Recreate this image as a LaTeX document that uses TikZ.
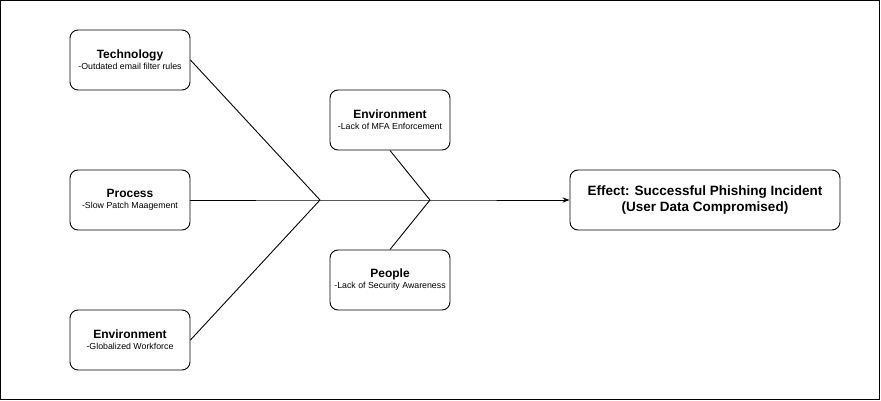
\documentclass[tikz,border=0pt]{standalone}
\usepackage{fontspec}
\setmainfont{Liberation Sans}
\usetikzlibrary{arrows.meta}
\tikzset {>=Stealth}
\tikzset{
  cause/.style={draw,rounded corners=8pt,minimum width=120pt,minimum height=60pt,align=center,inner sep=0pt},
  effect/.style={draw,rounded corners=8pt,minimum width=270pt,minimum height=60pt,align=center,inner sep=0pt,font=\fontsize{13.5}{16}\selectfont\bfseries}
}
\newcommand{\causetext}[2]{{\fontsize{12}{14}\selectfont\bfseries #1}\\[-1pt]{\fontsize{8.8}{10}\selectfont #2}}

\begin{document}
\begin{tikzpicture}[x=1pt,y=-1pt,line width=0.9pt]
\useasboundingbox (0,0) rectangle (881,401);
\draw (0.5,0.5) rectangle (879.5,399.5);

\node[cause] (tech) at (130,60) {\causetext{Technology}{-Outdated email filter rules}};
\node[cause] (proc) at (130,200) {\causetext{Process}{-Slow Patch Maagement}};
\node[cause] (envl) at (130,340) {\causetext{Environment}{-Globalized Workforce}};
\node[cause] (envr) at (390,120) {\causetext{Environment}{-Lack of MFA Enforcement}};
\node[cause] (ppl) at (390,280) {\causetext{People}{-Lack of Security Awareness}};
\node[effect] (eff) at (705,200) {Effect: Successful Phishing Incident\\(User Data Compromised)};

\coordinate (j1) at (320,200);
\coordinate (j2) at (430,200);

\draw (tech.east |- 0,60) -- (j1);
\draw (envl.east |- 0,340) -- (j1);
\draw (envr.south) -- (j2);
\draw (ppl.north) -- (j2);
\draw[->] (proc.east) -- (j1) -- (j2) -- (eff.west);
\end{tikzpicture}
\end{document}
